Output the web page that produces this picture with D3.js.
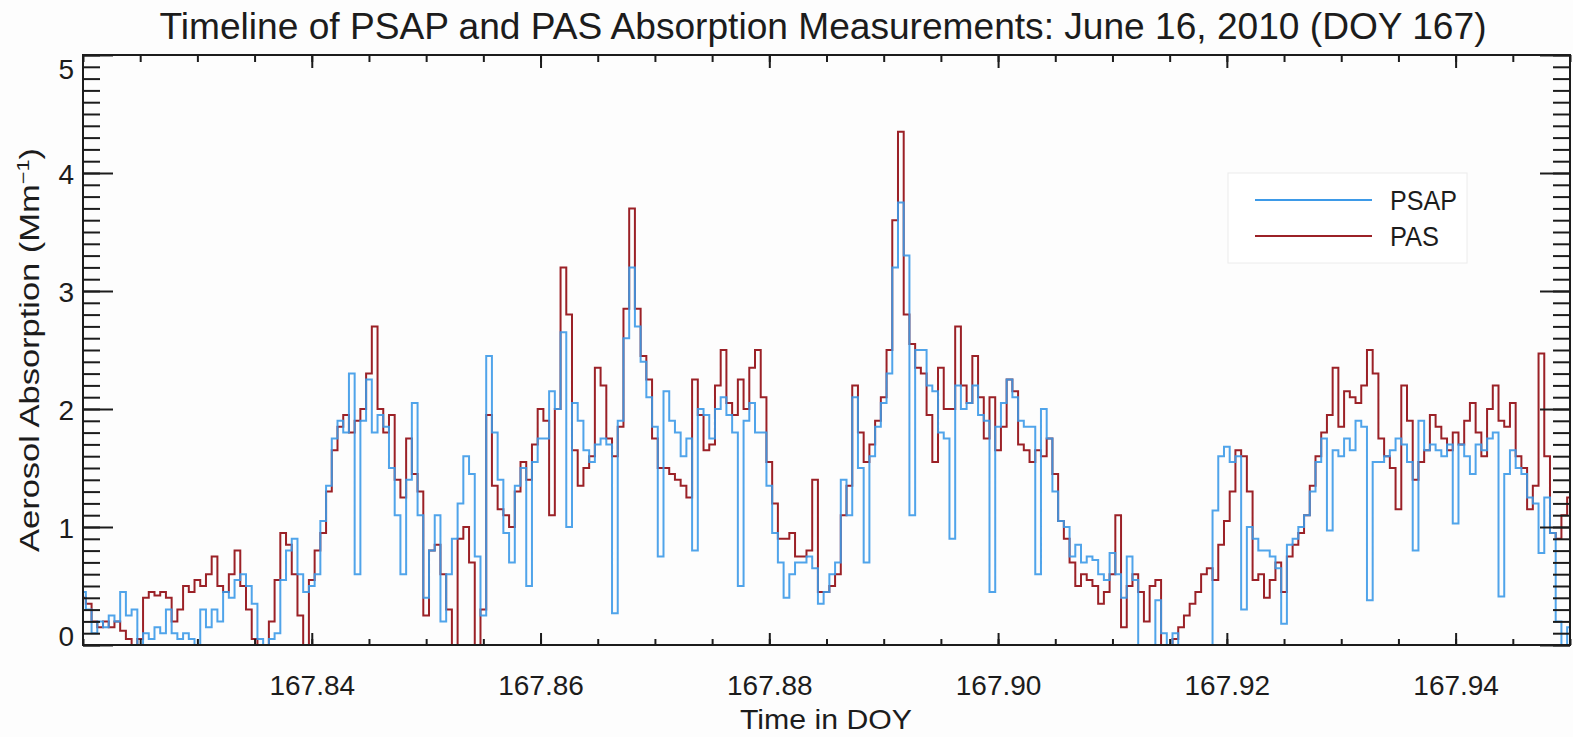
<!DOCTYPE html>
<html>
<head>
<meta charset="utf-8">
<script src="https://cdn.jsdelivr.net/npm/d3@7"></script>
<style>
  html, body { margin: 0; padding: 0; background: #fdfdfd; }
  svg { display: block; }
  text { font-family: "Liberation Sans", Arial, sans-serif; fill: #1c1c1c; }
</style>
</head>
<body>
<svg id="chart" width="1573" height="737"></svg>
<script>
// Sampling grid of the absorption record (day of year)
const doyStart = 167.82;
const doyStep = 0.0005;
const doyEnd = 167.95;

// PSAP absorption, Mm^-1
const psap = [
  0.45,0.3,0.1,0.2,0.15,0.25,0.2,0.45,0.25,0.3,
  0,0.1,0.05,0.15,0.1,0.3,0.1,0.05,0.1,0.05,
  0,0.3,0.15,0.3,0.2,0.45,0.4,0.55,0.6,0.5,
  0.35,0.05,0,0.05,0.1,0.55,0.8,0.9,0.6,0.45,
  0.5,0.6,1.05,1.35,1.75,1.9,1.8,2.3,0.6,1.9,
  2.25,1.8,1.95,1.85,1.5,1.1,0.6,1.4,2.05,1.1,
  0.4,0.8,1.1,0.2,0.6,0.9,1.2,1.6,1.45,0.75,
  0.25,2.45,1.8,1.4,0.95,0.7,1.35,1.5,0.5,1.55,
  1.75,1.75,2.15,2.0,2.65,1.0,2.05,1.9,1.65,1.55,
  1.7,1.75,1.7,0.27,1.9,2.6,3.2,2.7,2.4,2.1,
  1.85,0.75,2.15,1.9,1.8,1.6,1.75,0.8,2.0,1.95,
  1.75,2.0,2.1,1.95,1.8,0.5,1.9,2.05,1.8,1.8,
  1.35,0.95,0.7,0.4,0.6,0.7,0.7,0.75,0.65,0.35,
  0.45,0.6,0.7,1.4,1.1,2.1,1.5,0.7,1.6,1.85,
  2.05,2.3,3.2,3.75,3.3,1.1,2.5,2.5,2.2,2.15,
  1.8,1.75,0.9,2.2,2.0,2.05,2.2,1.95,1.9,0.45,
  1.85,2.05,2.25,2.1,1.9,1.85,1.85,0.6,2.0,1.75,
  1.3,1.05,1.0,0.75,0.85,0.7,0.75,0.72,0.6,0.55,
  0.78,0.6,0.4,0.75,0.55,0,0,0,0.38,0.1,
  0,0.1,0,0,0,0,0,0,1.14,1.6,
  1.68,1.55,1.6,0.3,1.0,0.9,0.8,0.8,0.75,0.65,
  0.18,0.85,0.9,1.0,1.1,1.3,1.55,1.75,0.97,1.65,
  1.6,1.75,1.65,1.9,1.85,0.38,1.55,1.55,1.6,1.65,
  1.75,1.7,1.55,0.8,1.9,1.65,1.7,1.65,1.6,1.7,
  1.03,1.7,1.6,1.45,1.7,1.65,1.75,1.8,0.41,1.45,
  1.65,1.5,1.45,1.25,1.2,0.78,1.25,0.95,0.2,0,
  0.15
];

// PAS absorption, Mm^-1
const pas = [
  0.4,0.35,0.2,0.15,0.2,0.15,0.2,0.12,0.05,0,
  0.05,0.4,0.45,0.42,0.45,0.4,0.2,0.3,0.5,0.45,
  0.55,0.5,0.6,0.75,0.5,0.45,0.6,0.8,0.5,0.3,
  0.05,0,0,0.2,0.55,0.95,0.85,0.6,0.25,0,
  0.55,0.8,0.95,1.3,1.65,1.85,1.95,1.8,1.9,2.0,
  2.3,2.7,2.0,1.8,1.95,1.4,1.25,1.75,1.45,1.3,
  0.25,0.8,0.85,0.6,0.3,0,0.9,1.0,0.7,0,
  0.3,1.95,1.35,1.15,1.1,1.0,1.3,1.55,1.4,1.7,
  2.0,1.9,1.1,2.0,3.2,2.8,1.65,1.35,1.5,1.6,
  2.35,2.2,1.75,1.6,1.85,2.85,3.7,2.85,2.45,2.25,
  1.75,1.5,1.5,1.45,1.4,1.35,1.25,2.25,1.95,1.65,
  1.7,2.2,2.5,2.05,1.95,2.25,2.0,2.35,2.5,2.1,
  1.55,1.2,0.9,0.9,0.95,0.75,0.75,0.8,1.4,0.45,
  0.45,0.5,0.6,1.1,1.35,2.2,1.8,1.55,1.7,1.9,
  2.1,2.5,3.6,4.35,2.8,2.55,2.35,2.3,1.95,1.55,
  2.35,2.0,2.0,2.7,2.2,2.05,2.45,2.1,1.75,2.1,
  1.65,1.85,2.25,2.15,1.7,1.65,1.55,1.65,1.6,1.75,
  1.45,1.05,0.9,0.7,0.5,0.6,0.55,0.5,0.35,0.45,
  0.6,1.1,0.15,0.5,0.6,0.45,0.2,0.5,0.55,0,
  0,0.05,0.15,0.25,0.35,0.45,0.6,0.65,0.55,0.85,
  1.05,1.3,1.65,1.6,1.3,0.55,0.6,0.4,0.55,0.7,
  0.45,0.75,0.85,0.95,1.1,1.35,1.6,1.8,1.95,2.35,
  1.85,2.15,2.1,2.05,2.2,2.5,2.3,1.75,1.6,1.5,
  1.15,2.2,1.9,1.4,1.55,1.65,1.95,1.85,1.75,1.65,
  1.8,1.7,1.9,2.05,1.8,1.6,2.0,2.2,1.9,1.85,
  2.05,1.6,1.5,1.15,1.35,2.47,1.6,0.95,0.9,1.1,
  1.25
];

const xTickLabels = ["167.84", "167.86", "167.88", "167.90", "167.92", "167.94"];
const yTickLabels = ["0", "1", "2", "3", "4", "5"];
const seriesNames = ["PSAP", "PAS"];

const titleText = "Timeline of PSAP and PAS Absorption Measurements: June 16, 2010 (DOY 167)";
const xTitle = "Time in DOY";

// ---------- layout ----------
const svg = d3.select("#chart");
const plotLeft = 83, plotRight = 1570, plotTop = 55, plotBottom = 645;
const ink = "#1c1c1c";
const colors = { PSAP: "#3d9ae8", PAS: "#9b2127" };

const x = d3.scaleLinear().domain([doyStart, doyEnd]).range([plotLeft, plotRight]);
const y = d3.scaleLinear().domain([0, 5]).range([plotBottom, plotTop]);

svg.append("rect").attr("width", 1573).attr("height", 737).attr("fill", "#fdfdfd");

// ---------- data lines ----------
svg.append("clipPath").attr("id", "plotClip")
  .append("rect").attr("x", plotLeft).attr("y", plotTop)
  .attr("width", plotRight - plotLeft).attr("height", plotBottom - plotTop);

const line = d3.line()
  .x((d, i) => x(doyStart + i * doyStep))
  .y(d => y(d))
  .curve(d3.curveStep);

const plot = svg.append("g").attr("clip-path", "url(#plotClip)");
plot.append("path").datum(pas)
  .attr("d", line).attr("fill", "none")
  .attr("stroke", colors.PAS).attr("stroke-width", 2).attr("stroke-linejoin", "miter");
plot.append("path").datum(psap)
  .attr("d", line).attr("fill", "none")
  .attr("stroke", colors.PSAP).attr("stroke-width", 2).attr("stroke-opacity", 0.9)
  .attr("stroke-linejoin", "miter");

// ---------- axes ----------
const xMajor = xTickLabels.map(Number);
const xMinor = d3.range(0, 27).map(k => doyStart + k * 0.005).filter(v => v <= doyEnd + 1e-9);
const yMajor = yTickLabels.map(Number);
const yMinor = d3.range(0, 51).map(k => k * 0.1);

function styleAxis(g) {
  g.select(".domain").remove();
  g.selectAll(".tick line").attr("stroke", ink).attr("stroke-width", 2);
  g.selectAll("text").style("font-size", "28px").attr("fill", ink);
}

// bottom
svg.append("g").attr("transform", `translate(0,${plotBottom})`)
  .call(d3.axisBottom(x).tickValues(xMinor).tickSize(-6).tickFormat(""))
  .call(styleAxis);
svg.append("g").attr("transform", `translate(0,${plotBottom})`)
  .call(d3.axisBottom(x).tickValues(xMajor).tickSize(-12).tickPadding(30)
    .tickFormat((d, i) => xTickLabels[i]))
  .call(styleAxis);
// top
svg.append("g").attr("transform", `translate(0,${plotTop})`)
  .call(d3.axisTop(x).tickValues(xMinor).tickSize(-7).tickFormat(""))
  .call(styleAxis);
svg.append("g").attr("transform", `translate(0,${plotTop})`)
  .call(d3.axisTop(x).tickValues(xMajor).tickSize(-13).tickFormat(""))
  .call(styleAxis);
// left
svg.append("g").attr("transform", `translate(${plotLeft},0)`)
  .call(d3.axisLeft(y).tickValues(yMinor).tickSize(-17).tickFormat(""))
  .call(styleAxis);
const yLab = svg.append("g").attr("transform", `translate(${plotLeft},0)`)
  .call(d3.axisLeft(y).tickValues(yMajor).tickSize(-30).tickPadding(9)
    .tickFormat((d, i) => yTickLabels[i]))
  .call(styleAxis);
yLab.selectAll(".tick text")
  .attr("dy", d => d === 0 ? "0.0em" : d === 5 ? "0.85em" : "0.36em");
// right
svg.append("g").attr("transform", `translate(${plotRight},0)`)
  .call(d3.axisRight(y).tickValues(yMinor).tickSize(-17).tickFormat(""))
  .call(styleAxis);
svg.append("g").attr("transform", `translate(${plotRight},0)`)
  .call(d3.axisRight(y).tickValues(yMajor).tickSize(-30).tickFormat(""))
  .call(styleAxis);

// frame
svg.append("rect").attr("x", plotLeft).attr("y", plotTop)
  .attr("width", plotRight - plotLeft).attr("height", plotBottom - plotTop)
  .attr("fill", "none").attr("stroke", ink).attr("stroke-width", 2);

// ---------- titles ----------
svg.append("text").attr("x", 823).attr("y", 39).attr("text-anchor", "middle")
  .style("font-size", "36px").attr("textLength", 1327).attr("lengthAdjust", "spacingAndGlyphs")
  .text(titleText);

svg.append("text").attr("x", 826).attr("y", 729).attr("text-anchor", "middle")
  .style("font-size", "28px").attr("textLength", 172).attr("lengthAdjust", "spacingAndGlyphs")
  .text(xTitle);

const yt = svg.append("text")
  .attr("transform", "translate(39,350) rotate(-90)")
  .attr("text-anchor", "middle")
  .style("font-size", "27px")
  .attr("textLength", 404).attr("lengthAdjust", "spacingAndGlyphs");
yt.append("tspan").text("Aerosol Absorption (Mm");
yt.append("tspan").attr("dy", -10).style("font-size", "17px").text("\u22121");
yt.append("tspan").attr("dy", 10).text(")");

// ---------- legend ----------
const legend = svg.append("g");
legend.append("rect").attr("x", 1228).attr("y", 173).attr("width", 239).attr("height", 90)
  .attr("fill", "#ffffff").attr("stroke", "#ececec").attr("stroke-width", 1);
seriesNames.forEach((name, i) => {
  const ly = 200 + i * 36;
  legend.append("line").attr("x1", 1255).attr("x2", 1372).attr("y1", ly).attr("y2", ly)
    .attr("stroke", colors[name]).attr("stroke-width", 2);
  legend.append("text").attr("x", 1390).attr("y", ly + 10)
    .style("font-size", "27px")
    .attr("textLength", name === "PSAP" ? 67 : 49).attr("lengthAdjust", "spacingAndGlyphs")
    .text(name);
});
</script>
</body>
</html>
